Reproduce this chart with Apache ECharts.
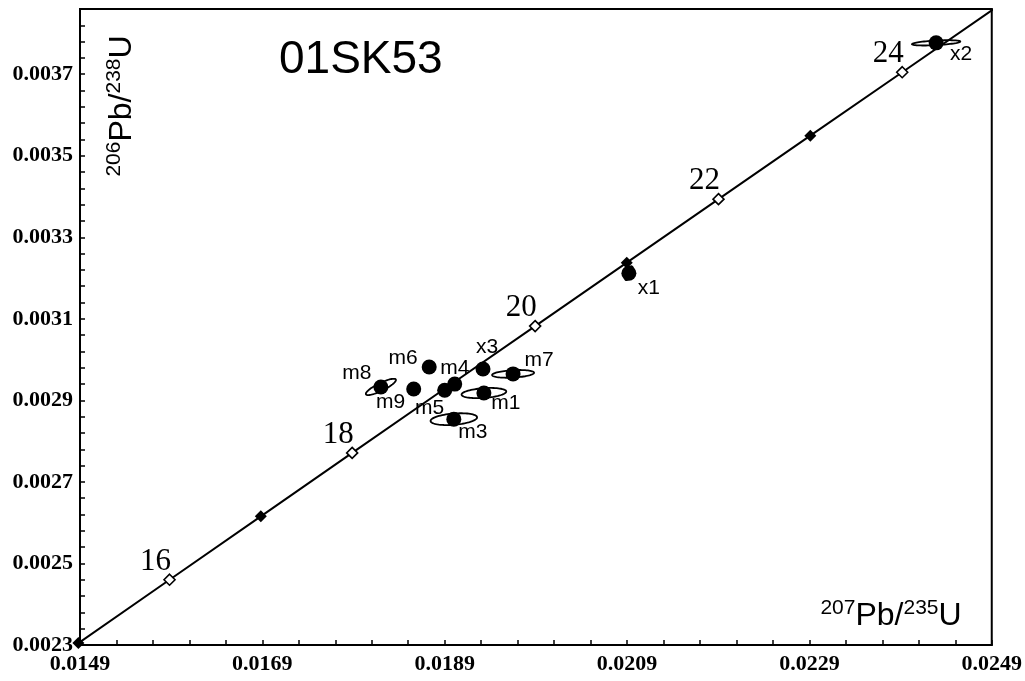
<!DOCTYPE html>
<html>
<head>
<meta charset="utf-8">
<script src="https://cdn.jsdelivr.net/npm/echarts@6/dist/echarts.min.js"></script>
<style>
html,body{margin:0;padding:0;background:#fff;}
#chart{width:1025px;height:681px;}
</style>
</head>
<body>
<div id="chart"></div>
<script>
// ---- Data ----
// Concordia curve points (age in Ma, 207Pb/235U, 206Pb/238U)
var concordiaAges = [14.8, 15, 16, 17, 18, 19, 20, 21, 22, 23, 24, 25];
var concordiaX = [0.014683, 0.014882, 0.015882, 0.016883, 0.017885, 0.018888, 0.019892, 0.020897, 0.021903, 0.022910, 0.023918, 0.024927];
var concordiaY = [0.0022735, 0.0023046, 0.0024601, 0.0026156, 0.0027711, 0.0029267, 0.0030823, 0.0032379, 0.0033936, 0.0035493, 0.0037049, 0.0038607];
// Age ticks on the concordia: open (labelled) and filled markers
var labelledAges = [16, 18, 20, 22, 24];
var filledAges = [15, 17, 19, 21, 23];

// Analyses
var spotNames = ['m1', 'm3', 'm4', 'm5', 'm6', 'm7', 'm8', 'm9', 'x1', 'x2', 'x3'];
var spotX = [0.01933, 0.01900, 0.01901, 0.01890, 0.01873, 0.01965, 0.01820, 0.01856, 0.02092, 0.02429, 0.01932];
var spotY = [0.002918, 0.002854, 0.002940, 0.002925, 0.002982, 0.002965, 0.002933, 0.002928, 0.003212, 0.003777, 0.002977];
// error ellipse half-extents and correlation
var errX = [0.000245, 0.000255, 0.000060, 0.000060, 0.000060, 0.000230, 0.000165, 0.000060, 0.000045, 0.000265, 0.000060];
var errY = [0.0000125, 0.0000145, 0.000012, 0.000012, 0.000012, 0.0000095, 0.000020, 0.000012, 0.000017, 0.0000065, 0.000012];
var errRho = [0.3, 0.3, 0.3, 0.3, 0.3, 0.3, 0.85, 0.3, 0.6, 0.5, 0.3];

// Axis tick labels
var xTickLabels = [0.0149, 0.0169, 0.0189, 0.0209, 0.0229, 0.0249];
var yTickLabels = [0.0023, 0.0025, 0.0027, 0.0029, 0.0031, 0.0033, 0.0035, 0.0037];

// ---- Styling / placement (not data) ----
var labelPlacement = {
  m1: [22, 10], m3: [19, 13], m4: [0, -16], m5: [-15, 18], m6: [-26, -9],
  m7: [26, -14], m8: [-24, -14], m9: [-23, 13], x1: [20, 15], x2: [25, 11], x3: [4, -22]
};

function minorTicks(start, end, step) {
  var out = [];
  var n = Math.round((end - start) / step);
  for (var i = 0; i <= n; i++) out.push(+(start + i * step).toFixed(6));
  return out;
}
var xMin = 0.0149, xMax = 0.0249, yMin = 0.0023, yMax = 0.00386;
var xTicks = minorTicks(xMin, xMax, 0.0004);
var yTicks = minorTicks(yMin, yMax, 0.00004);

function agePoint(age) {
  var i = concordiaAges.indexOf(age);
  return [concordiaX[i], concordiaY[i], age];
}

var chart = echarts.init(document.getElementById('chart'), null, {renderer: 'canvas'});

var richTitle = {
  b: {fontSize: 32, fontFamily: 'Liberation Sans', lineHeight: 36, fill: '#000', color: '#000'},
  s: {fontSize: 21, fontFamily: 'Liberation Sans', lineHeight: 21, verticalAlign: 'top', fill: '#000', color: '#000'}
};

var option = {
  backgroundColor: '#fff',
  animation: false,
  grid: {left: 80, right: 33, top: 9, bottom: 36, show: true, borderColor: '#000', borderWidth: 2, backgroundColor: 'transparent'},
  xAxis: {
    type: 'value', min: xMin, max: xMax,
    axisLine: {show: true, onZero: false, lineStyle: {color: '#000', width: 2}},
    axisTick: {show: true, inside: true, length: 5, customValues: xTicks, lineStyle: {color: '#000', width: 1.5}},
    axisLabel: {customValues: xTickLabels, formatter: function (v) { return v.toFixed(4); },
      color: '#000', fontFamily: 'Liberation Serif', fontWeight: 'bold', fontSize: 22, margin: 8},
    splitLine: {show: false}
  },
  yAxis: {
    type: 'value', min: yMin, max: yMax,
    axisLine: {show: true, onZero: false, lineStyle: {color: '#000', width: 2}},
    axisTick: {show: true, inside: true, length: 5, customValues: yTicks, lineStyle: {color: '#000', width: 1.5}},
    axisLabel: {customValues: yTickLabels, formatter: function (v) { return v.toFixed(4); },
      color: '#000', fontFamily: 'Liberation Serif', fontWeight: 'bold', fontSize: 22, margin: 7},
    splitLine: {show: false}
  },
  graphic: [
    {type: 'text', left: 279, top: 37, style: {text: '01SK53', font: '46px "Liberation Sans"', fill: '#000'}},
    {type: 'text', x: 122, y: 106, rotation: Math.PI / 2,
      style: {text: '{s|206}{b|Pb/}{s|238}{b|U}', align: 'center', verticalAlign: 'middle', fill: '#000', rich: richTitle}},
    {type: 'text', x: 891, y: 616,
      style: {text: '{s|207}{b|Pb/}{s|235}{b|U}', align: 'center', verticalAlign: 'middle', fill: '#000', rich: richTitle}}
  ],
  series: [
    {
      type: 'line', name: 'concordia', data: concordiaX.map(function (x, i) { return [x, concordiaY[i]]; }),
      showSymbol: false, lineStyle: {color: '#000', width: 2}, clip: true, z: 2
    },
    {
      type: 'scatter', name: 'filledAges', data: filledAges.map(agePoint), clip: false,
      symbol: 'diamond', symbolSize: 12, itemStyle: {color: '#000', opacity: 1}, z: 3
    },
    {
      type: 'scatter', name: 'labelledAges', data: labelledAges.map(agePoint), clip: false,
      symbol: 'diamond', symbolSize: 11, itemStyle: {color: '#fff', borderColor: '#000', borderWidth: 1.6, opacity: 1}, z: 3,
      label: {show: true, position: 'inside', offset: [-14, -18], formatter: function (p) { return String(p.value[2]); },
        color: '#000', fontFamily: 'Liberation Serif', fontSize: 31}
    },
    {
      type: 'custom', name: 'ellipses', z: 4, clip: false,
      data: spotX.map(function (x, i) { return [x, spotY[i], errX[i], errY[i], errRho[i]]; }),
      renderItem: function (params, api) {
        var cx = api.value(0), cy = api.value(1), sx = api.value(2), sy = api.value(3), r = api.value(4);
        var q = Math.sqrt(1 - r * r);
        var pts = [];
        for (var k = 0; k < 72; k++) {
          var t = k / 72 * Math.PI * 2;
          var c = Math.cos(t), s = Math.sin(t);
          pts.push(api.coord([cx + sx * c, cy + sy * (r * c + q * s)]));
        }
        return {type: 'polygon', shape: {points: pts}, style: {fill: 'none', stroke: '#000', lineWidth: 1.8}};
      }
    },
    {
      type: 'scatter', name: 'spots', z: 5,
      data: spotX.map(function (x, i) {
        return {name: spotNames[i], value: [x, spotY[i]],
          label: {offset: labelPlacement[spotNames[i]]}};
      }),
      symbol: 'circle', symbolSize: 15, itemStyle: {color: '#000', opacity: 1},
      label: {show: true, position: 'inside', formatter: '{b}', color: '#000', fontFamily: 'Liberation Sans', fontSize: 21}
    }
  ]
};
chart.setOption(option);
</script>
</body>
</html>
